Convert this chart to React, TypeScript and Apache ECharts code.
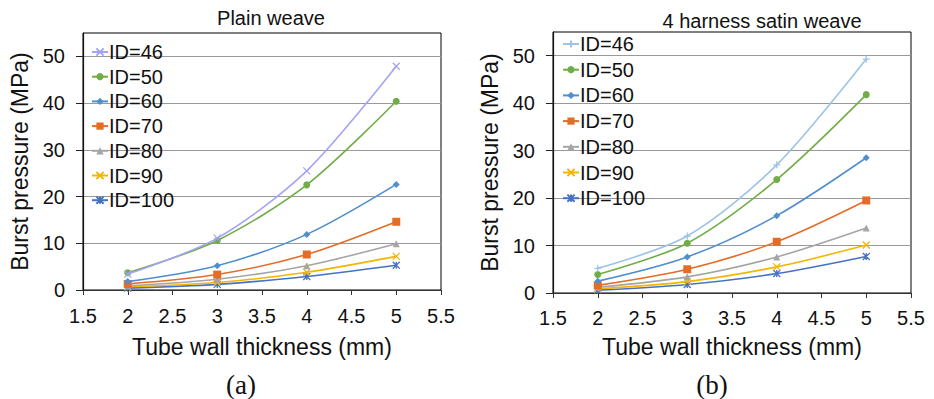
import React, { useEffect, useRef } from "react";
import * as echarts from "echarts";

// ---------- data ----------
const thickness = [2, 3, 4, 5];
const seriesNames = ["ID=46", "ID=50", "ID=60", "ID=70", "ID=80", "ID=90", "ID=100"];

// (a) Plain weave
const plain46 = [3.4, 11.1, 25.5, 47.9];
const plain50 = [3.7, 10.6, 22.5, 40.4];
const plain60 = [1.8, 5.2, 11.9, 22.6];
const plain70 = [1.3, 3.3, 7.6, 14.6];
const plain80 = [0.9, 2.3, 5.2, 9.9];
const plain90 = [0.7, 1.6, 3.8, 7.2];
const plain100 = [0.4, 1.2, 2.9, 5.3];

// (b) 4 harness satin weave
const satin46 = [5.2, 12.0, 27.0, 49.3];
const satin50 = [3.9, 10.5, 23.9, 41.8];
const satin60 = [2.5, 7.6, 16.3, 28.5];
const satin70 = [1.6, 5.0, 10.8, 19.5];
const satin80 = [1.2, 3.4, 7.6, 13.7];
const satin90 = [0.9, 2.4, 5.5, 10.1];
const satin100 = [0.6, 1.8, 4.1, 7.7];

const yTicks = [0, 10, 20, 30, 40, 50];

// ---------- styles ----------
const SANS = '"Liberation Sans", Arial, Helvetica, sans-serif';
const SERIF = '"Liberation Serif", "Times New Roman", serif';
const X_SYM = "path://M0,0L10,10M10,0L0,10";
const PLUS_SYM = "path://M5,0L5,10M0,5L10,5";
const AST_SYM = "path://M0,0L10,10M10,0L0,10M5,0L5,10";

const plainColors = ["#a3a3f7", "#70ad47", "#4f8fcf", "#e46c26", "#a5a5a5", "#f2b600", "#4472c4"];
const satinColors = ["#9dc3e6", "#70ad47", "#4f8fcf", "#e46c26", "#a5a5a5", "#f2b600", "#4472c4"];
const plainSymbols = [X_SYM, "circle", "diamond", "rect", "triangle", X_SYM, AST_SYM];
const satinSymbols = [PLUS_SYM, "circle", "diamond", "rect", "triangle", X_SYM, AST_SYM];
const symbolSizes = [7, 7, 7, 8, 7, 7, 7];

type PanelProps = {
  left: number;
  width: number;
  title: string;
  titleX: number;
  titleY: number;
  tag: string;
  tagX: number;
  values: number[][];
  colors: string[];
  symbols: string[];
  grid: { left: number; top: number; width: number; height: number };
  legendPos: { left: number; top: number; gap: number };
  xNameGap: number;
  xLabelMargin: number;
};

function buildOption(p: PanelProps) {
  const series = seriesNames.map((name, i) => {
    const stroked = p.symbols[i].startsWith("path://");
    return {
      name,
      type: "line",
      smooth: 0.3,
      data: thickness.map((t, j) => [t, p.values[i][j]]),
      symbol: p.symbols[i],
      symbolSize: symbolSizes[i],
      lineStyle: { color: p.colors[i], width: 1.6 },
      itemStyle: {
        color: p.colors[i],
        borderColor: p.colors[i],
        borderWidth: stroked ? 1.3 : 0,
      },
      emphasis: { disabled: true },
      z: 10 - i,
    };
  });

  return {
    animation: false,
    backgroundColor: "#ffffff",
    grid: {
      left: p.grid.left,
      top: p.grid.top,
      width: p.grid.width,
      height: p.grid.height,
      show: true,
      borderColor: "#000000",
      borderWidth: 1,
      backgroundColor: "transparent",
      containLabel: false,
    },
    legend: {
      orient: "vertical",
      left: p.legendPos.left,
      top: p.legendPos.top,
      padding: 0,
      itemGap: p.legendPos.gap,
      itemWidth: 16,
      itemHeight: 9,
      selectedMode: false,
      data: seriesNames,
      textStyle: {
        fontFamily: SANS,
        fontSize: 20,
        color: "#111111",
        lineHeight: 20,
        padding: [0, 0, 0, -4],
      },
    },
    xAxis: {
      type: "value",
      min: 1.5,
      max: 5.5,
      interval: 0.5,
      name: "Tube wall thickness (mm)",
      nameLocation: "middle",
      nameGap: p.xNameGap,
      nameTextStyle: { fontFamily: SANS, fontSize: 23, color: "#111111" },
      axisLine: { show: true, onZero: false, lineStyle: { color: "#333333", width: 1.2 } },
      axisTick: { show: true, inside: false, length: 5, lineStyle: { color: "#333333" } },
      axisLabel: { fontFamily: SANS, fontSize: 20, color: "#111111", margin: p.xLabelMargin },
      splitLine: { show: false },
    },
    yAxis: {
      type: "value",
      min: 0,
      max: 55,
      interval: 10,
      name: "Burst pressure (MPa)",
      nameLocation: "middle",
      nameGap: 52,
      nameTextStyle: { fontFamily: SANS, fontSize: 23, color: "#111111" },
      axisLine: { show: true, lineStyle: { color: "#111111", width: 1.2 } },
      axisTick: {
        show: true,
        length: 7,
        customValues: yTicks,
        lineStyle: { color: "#222222" },
      },
      axisLabel: {
        fontFamily: SANS,
        fontSize: 20,
        color: "#111111",
        margin: 18,
        customValues: yTicks,
      },
      splitLine: { show: true, lineStyle: { color: "#9a9a9a", width: 1.2 } },
    },
    graphic: [
      {
        type: "text",
        x: p.titleX,
        y: p.titleY,
        style: {
          text: p.title,
          fontFamily: SANS,
          fontSize: 20,
          fill: "#111111",
          textAlign: "center",
          textVerticalAlign: "middle",
        },
      },
      {
        type: "text",
        x: p.tagX,
        y: 385,
        style: {
          text: p.tag,
          fontFamily: SERIF,
          fontSize: 27,
          fill: "#111111",
          textAlign: "center",
          textVerticalAlign: "middle",
        },
      },
    ],
    series,
  };
}

function Panel(p: PanelProps) {
  const ref = useRef<HTMLDivElement | null>(null);
  useEffect(() => {
    if (!ref.current) return;
    const chart = echarts.init(ref.current, undefined, { renderer: "svg" });
    chart.setOption(buildOption(p) as any);
    return () => chart.dispose();
  }, []);
  return (
    <div
      ref={ref}
      style={{ position: "absolute", left: p.left, top: 0, width: p.width, height: 399 }}
    />
  );
}

export default function App() {
  return (
    <div
      style={{
        position: "fixed",
        left: 0,
        top: 0,
        width: 934,
        height: 399,
        background: "#ffffff",
        overflow: "hidden",
      }}
    >
      <Panel
        left={0}
        width={470}
        title="Plain weave"
        titleX={271}
        titleY={18}
        tag="(a)"
        tagX={241}
        values={[plain46, plain50, plain60, plain70, plain80, plain90, plain100]}
        colors={plainColors}
        symbols={plainSymbols}
        grid={{ left: 82, top: 33, width: 359, height: 257 }}
        legendPos={{ left: 91, top: 42, gap: 4.7 }}
        xNameGap={45}
        xLabelMargin={16}
      />
      <Panel
        left={470}
        width={464}
        title="4 harness satin weave"
        titleX={292}
        titleY={21}
        tag="(b)"
        tagX={242}
        values={[satin46, satin50, satin60, satin70, satin80, satin90, satin100]}
        colors={satinColors}
        symbols={satinSymbols}
        grid={{ left: 82, top: 32, width: 359, height: 261 }}
        legendPos={{ left: 92, top: 34, gap: 5.7 }}
        xNameGap={42}
        xLabelMargin={15}
      />
    </div>
  );
}
